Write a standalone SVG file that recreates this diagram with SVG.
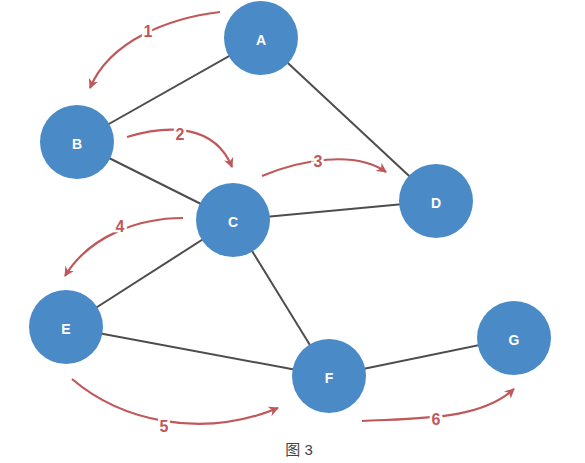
<svg xmlns="http://www.w3.org/2000/svg" width="585" height="463" viewBox="0 0 585 463">
<style>
.node circle{fill:#4a8bc7;}
.node text{fill:#fff;font-family:"Liberation Sans",Arial,sans-serif;font-weight:bold;font-size:14px;text-anchor:middle;dominant-baseline:central;}
.edge{stroke:#4d4d4d;stroke-width:2;fill:none;}
.step{stroke:#c0585a;stroke-width:2.2;fill:none;marker-end:url(#ah);}
.lbl{fill:#c0585a;font-family:"Liberation Sans",Arial,sans-serif;font-weight:bold;font-size:16px;text-anchor:middle;dominant-baseline:central;stroke:#fff;stroke-width:5;paint-order:stroke;}
.cap{fill:#444;font-family:"Liberation Sans","Noto Sans CJK SC",sans-serif;font-size:15px;text-anchor:middle;dominant-baseline:central;}
</style>
<defs>
<marker id="ah" markerWidth="10" markerHeight="10" refX="9" refY="5" orient="auto" markerUnits="userSpaceOnUse" viewBox="0 0 10 10">
<path d="M0,0 L10,5 L0,10 L3,5 Z" fill="#c0585a"/>
</marker>
</defs>
<rect width="585" height="463" fill="#fff"/>
<g id="connectors">
<line class="edge" x1="261" y1="38" x2="77" y2="142"/>
<line class="edge" x1="261" y1="38" x2="436" y2="201"/>
<line class="edge" x1="77" y1="142" x2="233" y2="220"/>
<line class="edge" x1="233" y1="220" x2="436" y2="201"/>
<line class="edge" x1="233" y1="220" x2="66" y2="327"/>
<line class="edge" x1="233" y1="220" x2="329" y2="376"/>
<line class="edge" x1="66" y1="327" x2="329" y2="376"/>
<line class="edge" x1="329" y1="376" x2="514" y2="338"/>
</g>
<g id="steps">
<path class="step" d="M220,12 C170,18 110,40 90,88"/>
<path class="step" d="M127,137 C170,124 215,125 232,167"/>
<path class="step" d="M262,176 C300,160 355,150 386,172"/>
<path class="step" d="M183,218 C140,218 90,235 65,276"/>
<path class="step" d="M72,379 C120,420 200,440 278,408"/>
<path class="step" d="M362,421 C420,418 480,420 514,389"/>
<text class="lbl" x="148" y="31">1</text>
<text class="lbl" x="180" y="134">2</text>
<text class="lbl" x="318" y="161">3</text>
<text class="lbl" x="120" y="226">4</text>
<text class="lbl" x="164" y="426">5</text>
<text class="lbl" x="436" y="419">6</text>
</g>
<g id="A" class="node"><circle cx="261" cy="38" r="37"/><text x="261" y="40">A</text></g>
<g id="B" class="node"><circle cx="77" cy="142" r="37"/><text x="77" y="144">B</text></g>
<g id="C" class="node"><circle cx="233" cy="220" r="37"/><text x="233" y="222">C</text></g>
<g id="D" class="node"><circle cx="436" cy="201" r="37"/><text x="436" y="203">D</text></g>
<g id="E" class="node"><circle cx="66" cy="327" r="37"/><text x="66" y="329">E</text></g>
<g id="F" class="node"><circle cx="329" cy="376" r="37"/><text x="329" y="378">F</text></g>
<g id="G" class="node"><circle cx="514" cy="338" r="37"/><text x="514" y="340">G</text></g>
<text class="cap" x="299" y="449">图 3</text>
</svg>
